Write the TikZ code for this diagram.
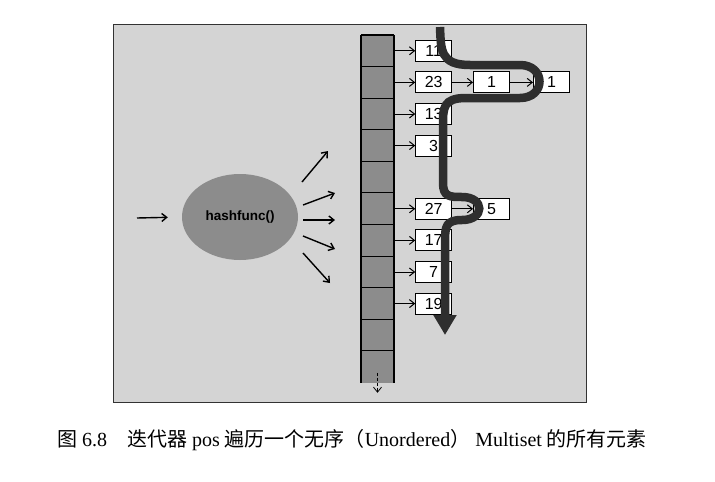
\documentclass[tikz,border=0pt]{standalone}
\usepackage{fontspec}
\setmainfont{Liberation Serif}
\setsansfont{Liberation Sans}
\newfontfamily\cjk{Noto Sans CJK SC}
\usetikzlibrary{arrows.meta, positioning, shapes.geometric}
\definecolor{panelgray}{HTML}{D4D4D4}
\definecolor{cellgray}{HTML}{8C8C8C}
\definecolor{pathgray}{HTML}{2E2E2E}

\begin{document}
\begin{tikzpicture}[
      x=1pt, y=-1pt,
      cell/.style={fill=cellgray, minimum width=33pt, minimum height=31.6pt, inner sep=0pt},
      item/.style={draw, fill=white, line width=0.9pt, minimum width=36pt, minimum height=21pt,
                   inner sep=0pt, font=\sffamily\fontsize{16}{16}\selectfont},
      link/.style={->, line width=1pt},
      fan/.style={->, line width=1.4pt},
      >={Straight Barb[length=5pt,width=8pt]}
    ]
    \useasboundingbox (0,0) rectangle (715,482);

    % Panel
    \draw[fill=panelgray, draw=black!80, line width=1pt] (113,24) rectangle (586,402);

    % Hash function
    \node[ellipse, fill=cellgray, minimum width=116pt, minimum height=86pt,
          font=\sffamily\bfseries\fontsize{13.5}{13.5}\selectfont] (hash) at (240,217) {hashfunc()};
    \coordinate (in) at (137,218);
    \draw[fan, shorten >=14pt] (in) -- (hash.west);

    % Fan out
    \foreach \sx/\sy/\tx/\ty [count=\k] in {302/182/328/151, 303/205/335/193, 303/220/335/220,
                                            303/236/335/249, 303/253/330/283} {
      \coordinate (s\k) at (\sx,\sy);
      \coordinate (t\k) at (\tx,\ty);
      \draw[fan] (s\k) -- (t\k);
    }

    % Bucket array
    \foreach \i in {1,...,11}
      \node[cell] (c\i) at (377.5, {35+15.8+31.6*(\i-1)}) {};
    \foreach \i in {2,...,11}
      \draw[line width=0.8pt] (c\i.north west) -- (c\i.north east);
    \draw[line width=1.8pt] (c1.north west) -- (c1.north east);
    \draw[line width=1.8pt] (c1.north west) -- (c11.south west);
    \draw[line width=1.8pt] (c1.north east) -- (c11.south east);
    \draw[->, densely dashed, line width=0.8pt] ([yshift=-6pt]c11.center) -- ([yshift=-26pt]c11.center);

    % Chains
    \foreach \c/\v in {1/11, 2/23, 3/13, 4/3, 6/27, 7/17, 8/7, 9/19} {
      \node[item, right=21pt of c\c] (b\v) {\v};
      \draw[link] (c\c.east) -- (b\v);
    }
    \node[item, right=21pt of b23] (b23a) {1};
    \node[item, right=23pt of b23a] (b23b) {1};
    \node[item, right=21pt of b27] (b27a) {5};
    \draw[link] (b23) -- (b23a);
    \draw[link] (b23a) -- (b23b);
    \draw[link] (b27) -- (b27a);

    % Iteration path
    \draw[pathgray, line width=8.5pt, -{Triangle[width=22pt,length=20pt]}]
      (440,27) .. controls (441,50) and (440,65) .. (470,65) -- (520,65)
      .. controls (546,65) and (546,98) .. (520,98) -- (466,98)
      .. controls (443,98) and (443,108) .. (443,125) -- (443,183)
      .. controls (443,197) and (450,197) .. (462,197)
      .. controls (485,197) and (485,220) .. (462,220)
      .. controls (446,220) and (445,226) .. (445,242) -- (445,335);

    % Caption
    \node (caption) at (352,440) {\fontsize{20}{20}\selectfont
      {\cjk 图} 6.8\hspace{1em}{\cjk 迭代器} pos {\cjk 遍历一个无序（}Unordered{\cjk ）} Multiset {\cjk 的所有元素}};
  \end{tikzpicture}
\end{document}
